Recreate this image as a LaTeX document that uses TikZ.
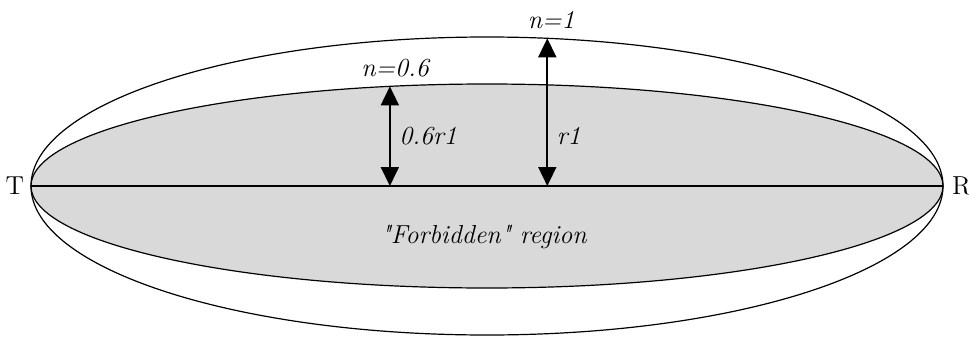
\documentclass[tikz,border=0pt]{standalone}
\usepackage{tikz}
\usetikzlibrary{arrows.meta,positioning}
\definecolor{regiongray}{RGB}{217,217,217}

\begin{document}
\begin{tikzpicture}[x=0.5pt,y=0.5pt,font=\fontsize{13}{15}\selectfont,
  rim/.style={line width=0.6pt},
  ray/.style={{Triangle[width=9pt,length=9.5pt]}-{Triangle[width=9pt,length=9.5pt]},line width=0.9pt}]
\useasboundingbox (-487,-152) rectangle (482,186);
\draw[rim] (0,0) ellipse (456 and 149);
\draw[rim,fill=regiongray] (0,0) ellipse (456 and 102);
\coordinate (T) at (-456,0);
\coordinate (R) at (456,0);
\draw[rim] (T) -- (R);
\node[left=0pt of T] (lT) {T};
\node[right=1pt of R] (lR) {R};
% tops of the two arrows on the ellipses
\path (0,0) ++(102.3:456 and 102) coordinate (ntop);
\path (0,0) ++(82.4:456 and 149) coordinate (otop);
\coordinate (nfoot) at (ntop |- T);
\coordinate (ofoot) at (otop |- T);
\draw[ray] (nfoot) -- node[right=1pt]{\textit{0.6r1}} (ntop);
\draw[ray] (ofoot) -- node[right=1pt,pos=0.34]{\textit{r1}} (otop);
\node[above=1pt of ntop,xshift=3pt] (nlow) {\textit{n=0.6}};
\node[above=1pt of otop,xshift=2pt] (nhigh) {\textit{n=1}};
\node (forbid) at (-3,-51) {\textit{\textquotedbl Forbidden\textquotedbl{} region}};
\end{tikzpicture}
\end{document}
